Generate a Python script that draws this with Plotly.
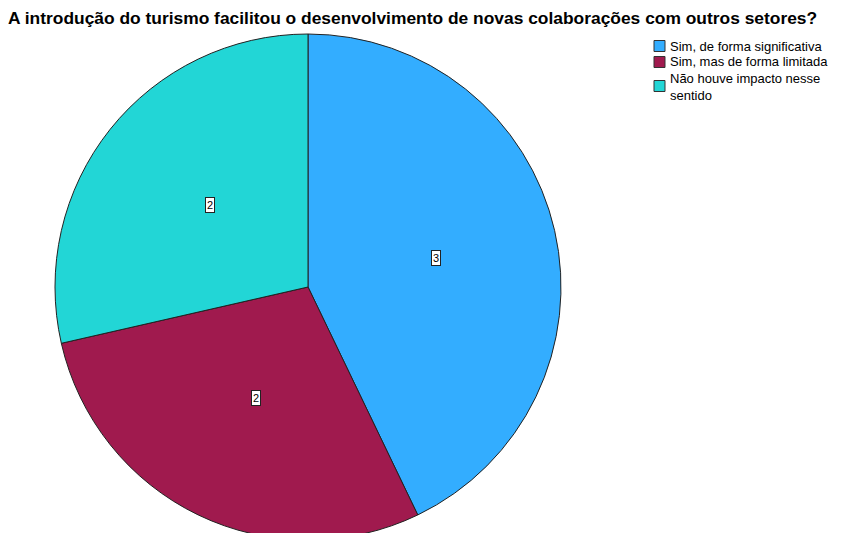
import math
import plotly.graph_objects as go

W, H = 840, 540
OFF = 8  # page body margin, pixels

categorias = ["Sim, de forma significativa", "Sim, mas de forma limitada", "Não houve impacto nesse<br>sentido"]
contagens = [3, 2, 2]
cores = ["#33adff", "#a01a4e", "#22d6d6"]
titulo = "A introdução do turismo facilitou o desenvolvimento de novas colaborações com outros setores?"

FONT = "Liberation Sans, Arial"

# pie geometry in figure pixels
cx, cy, r = 308 - OFF, 287 - OFF, 253


def px(x):
    return x / W


def py(y):
    return 1 - y / H


fig = go.Figure()
fig.add_trace(go.Pie(
    labels=categorias, values=contagens, sort=False, direction="clockwise", rotation=0,
    marker=dict(colors=cores, line=dict(color="#222222", width=1)),
    textinfo="none", hoverinfo="label+value", showlegend=False,
    domain=dict(x=[px(cx - r), px(cx + r)], y=[py(cy + r), py(cy - r)]),
))

# value boxes inside each slice
total = sum(contagens)
acc = 0
for v in contagens:
    mid = (acc + v / 2) / total * 2 * math.pi
    acc += v
    lx = cx + 0.52 * r * math.sin(mid)
    ly = cy - 0.52 * r * math.cos(mid)
    fig.add_annotation(x=px(lx), y=py(ly), xref="paper", yref="paper", text=str(v),
                       showarrow=False, bgcolor="white", bordercolor="#222222", borderwidth=1,
                       borderpad=1, font=dict(family=FONT, size=11, color="black"))

# legend drawn by hand (tight SPSS-style spacing)
leg_x = 654 - OFF
leg_y = [46 - OFF, 62 - OFF, 86 - OFF]
for cat, cor, yc in zip(categorias, cores, leg_y):
    fig.add_shape(type="rect", xref="paper", yref="paper",
                  x0=px(leg_x), x1=px(leg_x + 11), y0=py(yc + 5.5), y1=py(yc - 5.5),
                  fillcolor=cor, line=dict(color="#333333", width=1))
    fig.add_annotation(x=px(leg_x + 14), y=py(yc + (1 if "<br>" in cat else 0)), xref="paper", yref="paper",
                       text=cat, showarrow=False, xanchor="left", yanchor="middle", align="left",
                       font=dict(family=FONT, size=13, color="black"))

fig.update_layout(
    width=W, height=H, margin=dict(l=0, r=0, t=0, b=0),
    paper_bgcolor="white", plot_bgcolor="white",
    title=dict(text="<b>" + titulo + "</b>", x=0, xanchor="left", y=py(10), yanchor="middle",
               font=dict(family=FONT, size=17.4, color="black")),
)

fig.write_html("out.html")
